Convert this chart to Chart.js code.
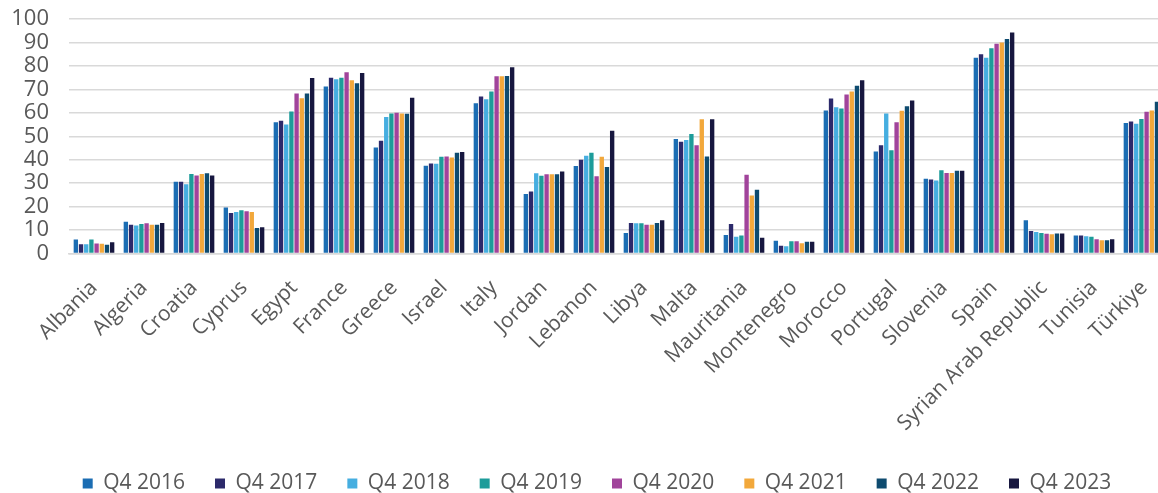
<!DOCTYPE html>
<html>
<head>
<meta charset="utf-8">
<script src="https://cdn.jsdelivr.net/npm/chart.js@4"></script>
<style>
  html, body { margin: 0; padding: 0; background: #fff; overflow: hidden; }
  #wrap { width: 1172px; height: 493px; }
</style>
</head>
<body>
<div id="wrap"><canvas id="chart" width="1172" height="493"></canvas></div>
<script>
const categories = ['Albania', 'Algeria', 'Croatia', 'Cyprus', 'Egypt', 'France', 'Greece', 'Israel', 'Italy', 'Jordan', 'Lebanon', 'Libya', 'Malta', 'Mauritania', 'Montenegro', 'Morocco', 'Portugal', 'Slovenia', 'Spain', 'Syrian Arab Republic', 'Tunisia', 'Türkiye'];

const seriesLabels = ['Q4 2016', 'Q4 2017', 'Q4 2018', 'Q4 2019', 'Q4 2020', 'Q4 2021', 'Q4 2022', 'Q4 2023'];
const seriesColors = ['#1b6db3', '#2c2a6b', '#46aee0', '#1d9c9a', '#a1449b', '#f2a83b', '#0e4b6f', '#17173f'];
const yTicks = [0, 10, 20, 30, 40, 50, 60, 70, 80, 90, 100];

const q2016 = [6, 13.6, 30.6, 19.6, 56, 71.2, 45.2, 37.4, 64.1, 25.4, 37.3, 8.8, 48.8, 7.9, 5.4, 61, 43.5, 31.9, 83.5, 14.2, 7.7, 55.7];
const q2017 = [4, 12.3, 30.6, 17.3, 56.6, 75, 48.1, 38.4, 67, 26.5, 40, 13, 47.7, 12.6, 3.3, 66.1, 46.2, 31.6, 85, 9.6, 7.7, 56.3];
const q2018 = [4, 12, 29.5, 17.7, 55, 74.3, 58.2, 38.3, 65.8, 34.2, 41.7, 12.9, 48.4, 7.1, 3.1, 62.4, 59.7, 31.1, 83.5, 9.2, 7.4, 55.3];
const q2019 = [6, 12.6, 33.9, 18.4, 60.6, 74.9, 59.7, 41.3, 69.1, 33.2, 43, 12.9, 51, 7.7, 5.2, 61.8, 44, 35.5, 87.5, 8.8, 7.1, 57.4];
const q2020 = [4.3, 12.9, 33.3, 18, 68.2, 77.3, 60, 41.4, 75.6, 33.8, 32.9, 12.3, 46.2, 33.6, 5.2, 67.8, 56, 34.3, 89.4, 8.4, 6.1, 60.4];
const q2021 = [4.2, 12.3, 33.9, 17.7, 66.2, 73.9, 59.7, 40.9, 75.6, 33.8, 41.3, 12.3, 57.3, 24.7, 4.4, 69.1, 60.9, 34.3, 90, 8.2, 5.7, 61];
const q2022 = [3.7, 12.3, 34.2, 10.9, 68.2, 72.6, 59.6, 43, 75.7, 33.8, 36.9, 13, 41.4, 27.2, 5, 71.5, 62.8, 35.3, 91.5, 8.5, 5.7, 64.7];
const q2023 = [4.8, 13, 33.3, 11.2, 74.8, 77, 66.4, 43.3, 79.4, 35, 52.3, 14.2, 57.3, 6.7, 5, 73.9, 65.2, 35.3, 94.2, 8.5, 6.1, 67];

const seriesValues = [q2016, q2017, q2018, q2019, q2020, q2021, q2022, q2023];

const datasets = seriesLabels.map((label, i) => ({
    label: label,
    data: seriesValues[i],
    backgroundColor: seriesColors[i],
    borderWidth: 0,
    barPercentage: 0.84,
    categoryPercentage: 0.83
}));

Chart.defaults.font.family = '"Open Sans", sans-serif';
Chart.defaults.color = '#595959';

// the legend row sits a little right of centre in the original
const nudgeLegend = {
    id: 'nudgeLegend',
    afterLayout(chart) {
        chart.legend.left += 7;
        chart.legend.right += 7;
    }
};

new Chart(document.getElementById('chart'), {
    type: 'bar',
    data: { labels: categories, datasets: datasets },
    plugins: [nudgeLegend],
    options: {
        responsive: false,
        animation: false,
        layout: { padding: { top: 19, left: 11, right: 3, bottom: -11 } },
        plugins: {
            tooltip: { enabled: false },
            legend: {
                position: 'bottom',
                labels: {
                    font: { size: 21 },
                    boxWidth: 10,
                    boxHeight: 10,
                    padding: 30,
                    color: '#595959'
                }
            }
        },
        scales: {
            x: {
                grid: { display: false, drawTicks: false },
                border: { color: '#d9d9d9', width: 1.5 },
                ticks: {
                    font: { size: 21 },
                    minRotation: 45,
                    maxRotation: 45,
                    autoSkip: false,
                    padding: 22
                },
                // rotated labels: keep the plot where the original has it
                afterFit: function(scale) {
                    scale.paddingLeft = 0;
                    scale.paddingRight = 0;
                    scale.height -= 15;
                }
            },
            y: {
                min: 0,
                max: 100,
                grid: { color: '#d9d9d9', lineWidth: 1.5, drawTicks: false },
                border: { display: false },
                ticks: {
                    font: { size: 22 },
                    padding: 20,
                    autoSkip: false
                },
                afterBuildTicks: function(axis) {
                    axis.ticks = yTicks.map(v => ({ value: v }));
                },
                afterFit: function(scale) {
                    scale.paddingTop = 0;
                    scale.paddingBottom = 0;
                    scale.width = 58;
                }
            }
        }
    }
});
</script>
</body>
</html>
